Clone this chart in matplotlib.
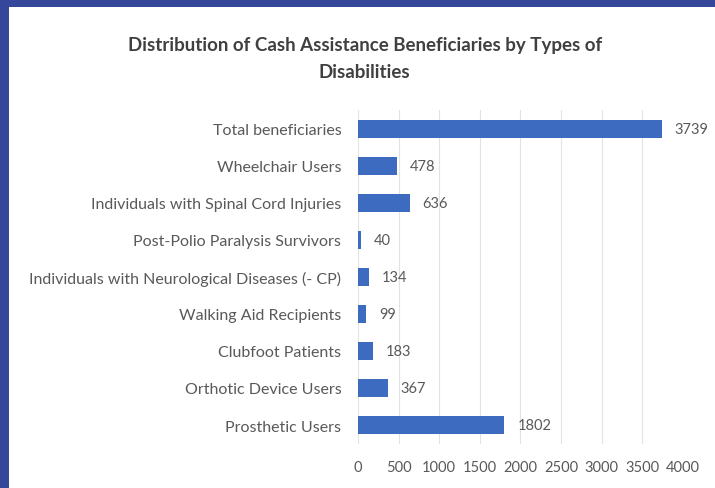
import matplotlib.pyplot as plt
import matplotlib.patches as mpatches

categories = [
    "Total beneficiaries",
    "Wheelchair Users",
    "Individuals with Spinal Cord Injuries",
    "Post-Polio Paralysis Survivors",
    "Individuals with Neurological Diseases (- CP)",
    "Walking Aid Recipients",
    "Clubfoot Patients",
    "Orthotic Device Users",
    "Prosthetic Users",
]
values = [3739, 478, 636, 40, 134, 99, 183, 367, 1802]
x_ticks = [0, 500, 1000, 1500, 2000, 2500, 3000, 3500, 4000]

plt.rcParams['font.family'] = ['Lato', 'DejaVu Sans']

fig = plt.figure(figsize=(7.15, 4.89), dpi=100)
fig.patch.set_facecolor('#34479a')
# white panel inside the blue frame
fig.patches.append(mpatches.Rectangle((9 / 715, 0), 1, 1 - 8 / 489,
                                      transform=fig.transFigure,
                                      facecolor='white', edgecolor='none', zorder=-5))

ax = fig.add_axes([0.5007, 0.091, 0.4545, 0.681])
ax.set_zorder(2)
ax.set_facecolor('none')

pos = list(range(len(categories)))
ax.barh(pos, values, height=0.5, color='#3d6bbf', zorder=3)
for p, v in zip(pos, values):
    ax.text(v + 160, p, str(v), va='center', ha='left', fontsize=10.5, color='#595959')

ax.set_yticks(pos)
ax.set_yticklabels(categories, fontsize=11.5, color='#595959')
ax.set_ylim(len(categories) - 0.5, -0.5)
ax.set_xlim(0, 4000)
ax.set_xticks(x_ticks)
ax.set_xticklabels([str(t) for t in x_ticks], fontsize=10.5, color='#595959')
ax.tick_params(axis='both', length=0)
ax.tick_params(axis='y', pad=12)
ax.tick_params(axis='x', pad=12)
ax.grid(axis='x', color='#e3e3e3', linewidth=0.8, zorder=0)
for s in ax.spines.values():
    s.set_visible(False)

fig.text(0.51, 0.907, "Distribution of Cash Assistance Beneficiaries by Types of",
         ha='center', va='center', fontsize=13.5, fontweight='bold', color='#404040')
fig.text(0.51, 0.852, "Disabilities",
         ha='center', va='center', fontsize=13.5, fontweight='bold', color='#404040')

fig.savefig('out.png', dpi=100)
